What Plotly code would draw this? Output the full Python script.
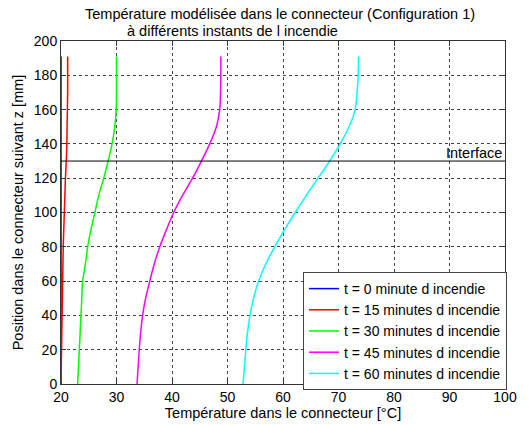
import plotly.graph_objects as go

# Position z [mm]
z = [0, 10, 20, 30, 40, 50, 60, 70, 80, 90, 100, 110, 120, 130, 140, 150, 160, 170, 180, 191]

T0 = [20.0] * len(z)
T15 = [20.0, 20.05, 20.1, 20.15, 20.2, 20.25, 20.3, 20.35, 20.4, 20.5, 20.6, 20.7, 20.8, 20.95, 21.05, 21.1, 21.15, 21.2, 21.2, 21.2]
T30 = [23.0, 23.15, 23.3, 23.45, 23.6, 23.75, 23.9, 24.4, 24.8, 25.4, 26.1, 26.8, 27.7, 28.5, 29.2, 29.7, 29.95, 30.0, 30.0, 30.0]
T45 = [33.7, 33.9, 34.1, 34.35, 34.7, 35.25, 36.0, 36.8, 37.8, 39.0, 40.3, 41.9, 43.7, 45.3, 46.8, 48.0, 48.6, 48.75, 48.8, 48.8]
T60 = [52.8, 53.05, 53.3, 53.6, 54.05, 54.7, 55.6, 56.9, 58.5, 60.3, 62.2, 64.2, 66.3, 68.4, 70.3, 71.9, 73.0, 73.35, 73.55, 73.6]

series_names = [
    "t = 0 minute d incendie",
    "t = 15 minutes d incendie",
    "t = 30 minutes d incendie",
    "t = 45 minutes d incendie",
    "t = 60 minutes d incendie",
]
series_values = [T0, T15, T30, T45, T60]
series_colors = ["#0000ff", "#ff0000", "#00ff00", "#ff00ff", "#00ffff"]

INTERFACE_Z = 130
INTERFACE_LABEL = "Interface"

x_ticks = [20, 30, 40, 50, 60, 70, 80, 90, 100]
y_ticks = [0, 20, 40, 60, 80, 100, 120, 140, 160, 180, 200]

FONT = "'Liberation Sans', Arial, sans-serif"
FS = 14.5
FT = 14

fig = go.Figure()
for name, vals, col in zip(series_names, series_values, series_colors):
    fig.add_trace(go.Scatter(x=vals, y=z, mode="lines", name=name,
                             line=dict(color=col, width=1.5, shape="spline", smoothing=0.8)))

fig.add_hline(y=INTERFACE_Z, line=dict(color="black", width=1))
fig.add_annotation(x=x_ticks[-1], y=INTERFACE_Z, text=INTERFACE_LABEL, showarrow=False,
                   xanchor="right", yanchor="bottom", xshift=-1, yshift=-2,
                   font=dict(size=FS, color="black", family=FONT))

fig.add_annotation(xref="paper", yref="paper", x=(280 - 61) / 444, y=1 + (41 - 14) / 343,
                   text="Température modélisée dans le connecteur (Configuration 1)",
                   showarrow=False, xanchor="center", yanchor="middle",
                   font=dict(size=FS, color="black", family=FONT))
fig.add_annotation(xref="paper", yref="paper", x=(232 - 61) / 444, y=1 + (41 - 31) / 343,
                   text="à différents instants de l incendie",
                   showarrow=False, xanchor="center", yanchor="middle",
                   font=dict(size=FS, color="black", family=FONT))

axis_common = dict(
    showgrid=True, gridcolor="#444444", griddash="dot", gridwidth=1,
    showline=True, linecolor="#333333", linewidth=1, mirror="ticks",
    ticks="inside", ticklen=5, tickcolor="#333333",
    zeroline=False, tickfont=dict(size=FT, color="black", family=FONT),
    automargin=False,
)

fig.update_xaxes(range=[20, 100], tickvals=x_ticks,
                 title=dict(text="Température dans le connecteur [°C]",
                            font=dict(size=FS, color="black", family=FONT), standoff=0),
                 **axis_common)
fig.update_yaxes(range=[0, 200], tickvals=y_ticks,
                 title=dict(text="Position dans le connecteur suivant z [mm]",
                            font=dict(size=FS, color="black", family=FONT), standoff=6),
                 **axis_common)

fig.update_layout(
    width=529, height=425,
    margin=dict(l=61, r=24, t=41, b=41, autoexpand=False),
    plot_bgcolor="white", paper_bgcolor="white",
    font=dict(family=FONT, size=FS, color="black"),
    showlegend=True,
    legend=dict(x=(303 - 61) / 444, y=(384 - 272) / 343, xanchor="left", yanchor="top",
                bgcolor="white", bordercolor="#444444", borderwidth=1,
                font=dict(size=14, color="black", family=FONT),
                tracegroupgap=0, itemwidth=30),
)

fig.write_html("out.html", config={"displayModeBar": False},
               post_script="document.body.style.margin='0';")
